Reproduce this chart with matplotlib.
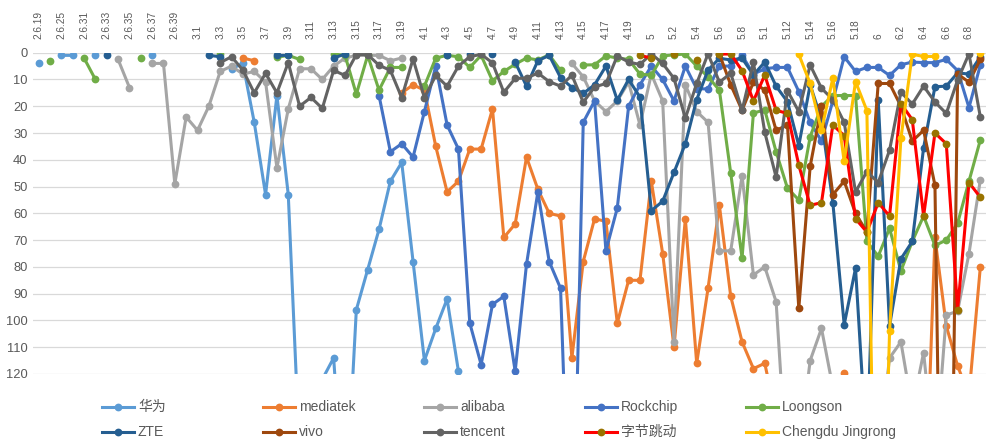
import numpy as np
import matplotlib
matplotlib.use("Agg")
import matplotlib.pyplot as plt
from matplotlib.lines import Line2D

plt.rcParams['font.family'] = ['Liberation Sans', 'Noto Sans CJK SC', 'DejaVu Sans']

N = np.nan

# kernel versions as Excel shows them (numbers, so 5.10 -> 5.1)
versions = ['2.6.19', '2.6.22', '2.6.25', '2.6.28', '2.6.31', '2.6.32', '2.6.33', '2.6.34',
            '2.6.35', '2.6.36', '2.6.37', '2.6.38', '2.6.39',
            '3', '3.1', '3.2', '3.3', '3.4', '3.5', '3.6', '3.7', '3.8', '3.9', '3.1',
            '3.11', '3.12', '3.13', '3.14', '3.15', '3.16', '3.17', '3.18', '3.19',
            '4', '4.1', '4.2', '4.3', '4.4', '4.5', '4.6', '4.7', '4.8', '4.9', '4.1',
            '4.11', '4.12', '4.13', '4.14', '4.15', '4.16', '4.17', '4.18', '4.19', '4.2',
            '5', '5.1', '5.2', '5.3', '5.4', '5.5', '5.6', '5.7', '5.8', '5.9', '5.1',
            '5.11', '5.12', '5.13', '5.14', '5.15', '5.16', '5.17', '5.18', '5.19',
            '6', '6.1', '6.2', '6.3', '6.4', '6.5', '6.6', '6.7', '6.8', '6.9']

# ranking per version (values past 120 run off the chart)
huawei = [4, N, 1, 1, N, 1, N, N, N, N,
          1, N, N, N, N, N, N, 6, 4, 26,
          53, 16, 53, 150, 150, 122, 114, 176, 96, 81,
          66, 48, 41, 78, 115, 103, 92, 119] + [N] * 46

mediatek = [N, N, N, N, N, N, N, N, N, N,
            N, N, N, N, N, N, N, N, 2, 3,
            N, N, N, N, N, N, N, N, N, N,
            N, N, 15, 12, 14, 35, 52, 48, 36, 36,
            21, 69, 64, 39, 51, 60, 61, 114, 78, 62,
            63, 101, 85, 85, 48, 75, 110, 62, 116, 88,
            57, 91, 108, 118, 116, 136, 150, 150, 150, 150,
            150, 119.5, 150, 150, 150, 150, 150, 150, 188, 69,
            102, 117, 128, 80]

alibaba = [N, N, N, N, N, N, N, 2.5, 13, N,
           4, 4, 49, 24, 29, 20, 7, 5, 8, 7,
           11, 43, 21, 6, 6, 10, 5, 2, 1, 1,
           1, 3, 2, N, N, N, N, N, N, N,
           N, N, N, N, N, N, N, 4, 9, 18,
           22, 18, 11, 27, 8, 18, 108, 12, 22, 26,
           74, 74, 46, 83, 80, 93, 160, 150, 115, 103,
           125, 150, 150, 150, 150, 114, 108, 133, 112, 153,
           98, 96.5, 75, 47.5]

rockchip = [N] * 30 + [
            16, 37, 34, 39, 22, 5, 27, 36, 101, 116.5,
            94, 91, 119, 79, 52, 78, 88, 210, 26, 18,
            74, 58, 20, 12, 5, 10, 18, 5, 13.5, 13.5,
            5, 5, 1, 8, 6, 5.5, 5.5, 14.5, 26, 33,
            18, 1.5, 7, 5.5, 5.5, 8.5, 4.5, 3.5, 3.7, 3.7,
            2.5, 6.7, 20.5, 4.6]

loongson = [N, 3, N, N, 2, 10, N, N, N, 2,
            N, N, N, N, N, N, 0.3, N, N, N,
            N, 1.7, 1, 2.5, N, N, 0.5, 1, 15.5, 1,
            14, 5.5, 5.5, N, 12.5, 2, 1, 1.5, 5.5, 1,
            10.5, 7, 4.3, 2, 2.7, 0.8, 6.6, N, 4.6, 4.5,
            1.2, 2, 2.5, 8, 8.4, 1.2, 0.8, 0.5, 5, 9,
            14, 45, 76.7, 22.5, 21.4, 37, 50.6, 55, 31.4, 20,
            16, 16, 16, 70.5, 76, 65.6, 81.5, 70.5, 61, 72,
            70, 63.7, 48, 32.6]

zte = [N, N, N, N, N, N, 1, N, N, N,
       N, N, N, N, N, 1, 1.5, N, N, N,
       N, 1, 1, N, N, N, 2, 0.5, N, N,
       N, N, N, N, N, N, 0.7, N, 0.5, N,
       0.5, N, 3.5, 12.5, 3, 1, 9.3, 13, 15.2, 12,
       5, 17.7, 10, 16.6, 59, 55.5, 44.7, 34, 17.5, 6.5,
       2.1, 2.7, 2.1, 8.3, 3.5, 12.5, 18.3, 34.7, 12, 25,
       56, 101.6, 80.5, 150, 17.7, 102, 77, 70.5, 35.5, 12.7,
       12.5, 7.5, 8, 1.5]

vivo = [N] * 60 + [
        0.5, 12, 21.5, 11, 14, 29, 27, 95.5, 42.5, 20,
        53, 48, 60, 67, 11.5, 11.5, 20, 33, 29, 49.5,
        330, 8, 11, 2.5]

tencent = [N] * 16 + [
           3.7, 1.5, 6.5, 15,
           7.7, 15, 3.7, 20, 16.7, 20.8, 6.6, 8.5, 0.7, 0.7,
           4.7, 6.6, 16.8, 2.3, 16.8, 8.5, 12.5, 5, 1.5, 0.6,
           3.8, 14.8, 9.6, 9.5, 7.6, 10.8, 12.5, 8.4, 18.5, 12.8,
           11.5, 1.2, 3.5, 4.4, 0.4, 4, 9.6, 24.5, 11.5, 0.4,
           11, 7.7, 21.5, 3.6, 29.7, 46.5, 14.2, 22, 4.6, 13.3,
           17.5, 26, 52, 44.4, 48.5, 36.4, 14.7, 19.2, 12.5, 18.4,
           22.7, 10.2, 0.4, 24]

bytedance = [N] * 53 + [
             1, 2, N, 0.5, N, 2.6, N,
             0.5, 0.5, 6.7, 18, 8.4, 21.5, 22.7, 42, 57, 56,
             27, 31, 62, 67, 56, 61, 19, 25, 61, 30,
             34, 96, 48.5, 54]

chengdu = [N] * 67 + [
           0.6, 11.5, 29,
           9.5, 40.6, 10.8, 21.6, 260, 104, 32, 0.6, 1.4, 1.4,
           N, N, N, 0]

series = [
    ('华为', huawei, '#5B9BD5', '#5B9BD5'),
    ('mediatek', mediatek, '#ED7D31', '#ED7D31'),
    ('alibaba', alibaba, '#A5A5A5', '#A5A5A5'),
    ('Rockchip', rockchip, '#4472C4', '#4472C4'),
    ('Loongson', loongson, '#70AD47', '#70AD47'),
    ('ZTE', zte, '#255E91', '#255E91'),
    ('vivo', vivo, '#9E480E', '#9E480E'),
    ('tencent', tencent, '#636363', '#636363'),
    ('字节跳动', bytedance, '#FF0000', '#997300'),
    ('Chengdu Jingrong', chengdu, '#FFC000', '#FFC000'),
]

W, H = 992, 443
fig = plt.figure(figsize=(W / 100, H / 100), dpi=100)
ax = fig.add_axes([33 / W, 1 - 374 / H, 953 / W, (374 - 52.7) / H])

x = np.arange(len(versions))
for name, vals, lc, mc in series:
    ax.plot(x, vals, color=lc, lw=2.2, marker='o', ms=5.6,
            mfc=mc, mec=mc, mew=0, solid_joinstyle='round')

ax.set_xlim(-0.5, len(versions) - 0.5)
ax.set_ylim(120, 0)
ax.set_yticks(range(0, 121, 10))
ax.set_xticks(x[::2], versions[::2])
ax.xaxis.tick_top()
ax.tick_params(axis='x', length=0, pad=10, labelrotation=90, labelsize=7.3, labelcolor='#595959')
ax.tick_params(axis='y', length=0, pad=4, labelsize=9.3, labelcolor='#595959')
ax.yaxis.grid(True, color='#D9D9D9', lw=0.9)
ax.set_axisbelow(True)
for s in ax.spines.values():
    s.set_visible(False)

# legend laid out like Excel: 5 equal columns, 2 rows
order = [0, 1, 2, 3, 4, 5, 6, 7, 8, 9]
for k in order:
    name, vals, lc, mc = series[k]
    col, row = k % 5, k // 5
    x0 = 102 + 161 * col
    yy = 1 - (407 + 25 * row) / H
    xs = [x0 / W, (x0 + 16) / W, (x0 + 32) / W]
    fig.add_artist(Line2D(xs, [yy] * 3, transform=fig.transFigure, color=lc, lw=2.2,
                          marker='o', ms=5.6, mfc=mc, mec=mc, mew=0, markevery=[1]))
    fig.text((x0 + 36) / W, yy, name, transform=fig.transFigure, va='center', ha='left',
             fontsize=10, color='#595959')

fig.savefig('out.png', dpi=100)
